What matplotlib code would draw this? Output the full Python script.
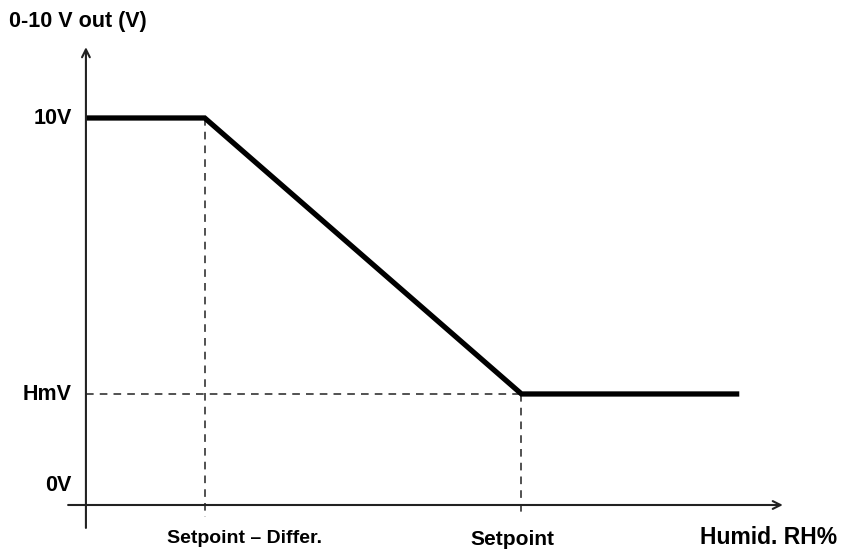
import matplotlib
matplotlib.use("Agg")
import matplotlib.pyplot as plt

# humidity positions (arbitrary units) and output voltage
x_pts = [0, 30, 110, 165]          # axis, setpoint-differ., setpoint, end
v_pts = [10, 10, 2.48, 2.48]       # 10V plateau, ramp, HmV plateau
v_ticks = [10, 2.48, 0]
v_labels = ["10V", "HmV", "0V"]
x_marks = [30, 110]
x_labels = ["Setpoint \u2013 Differ.", "Setpoint"]

plt.rcParams["font.family"] = ["Liberation Sans", "DejaVu Sans"]
fig = plt.figure(figsize=(8.45, 5.49), dpi=100)
ax = fig.add_axes([0, 0, 1, 1])
ax.set_xlim(-21.7, 191.7)
ax.set_ylim(-1.744, 13.215)
ax.axis("off")

x0 = -0.545  # height of the humidity axis
# axes with arrows
ax.annotate("", xy=(176, x0), xytext=(-4.5, x0),
            arrowprops=dict(arrowstyle="->", lw=1.5, color="#222222",
                            shrinkA=0, shrinkB=0, mutation_scale=14))
ax.annotate("", xy=(0, 11.93), xytext=(0, -1.17),
            arrowprops=dict(arrowstyle="->", lw=1.5, color="#222222",
                            shrinkA=0, shrinkB=0, mutation_scale=14))

# dashed guides
dash = dict(color="#222222", lw=1.1, ls=(0, (5, 4)))
ax.plot([x_marks[0], x_marks[0]], [v_pts[1], -0.87], **dash)
ax.plot([x_marks[1], x_marks[1]], [v_pts[2], -0.87], **dash)
ax.plot([0, x_pts[2]], [v_pts[2], v_pts[2]], **dash)

# response curve
ax.plot(x_pts, v_pts, color="black", lw=3.8, solid_capstyle="butt",
        solid_joinstyle="miter")

# labels
for v, lab in zip(v_ticks, v_labels):
    ax.text(-3.6, v - 0.02, lab, ha="right", va="center", fontsize=15.5,
            fontweight="bold")
ax.text(-19.5, 12.62, "0-10 V out (V)", ha="left", va="center", fontsize=15.5,
        fontweight="bold")
ax.text(20.4, -1.45, x_labels[0], ha="left", va="center", fontsize=14,
        fontweight="bold")
ax.text(97, -1.48, x_labels[1], ha="left", va="center", fontsize=15,
        fontweight="bold")
ax.text(155, -1.42, "Humid. RH%", ha="left", va="center", fontsize=16.5,
        fontweight="bold")

fig.savefig("out.png", dpi=100)
